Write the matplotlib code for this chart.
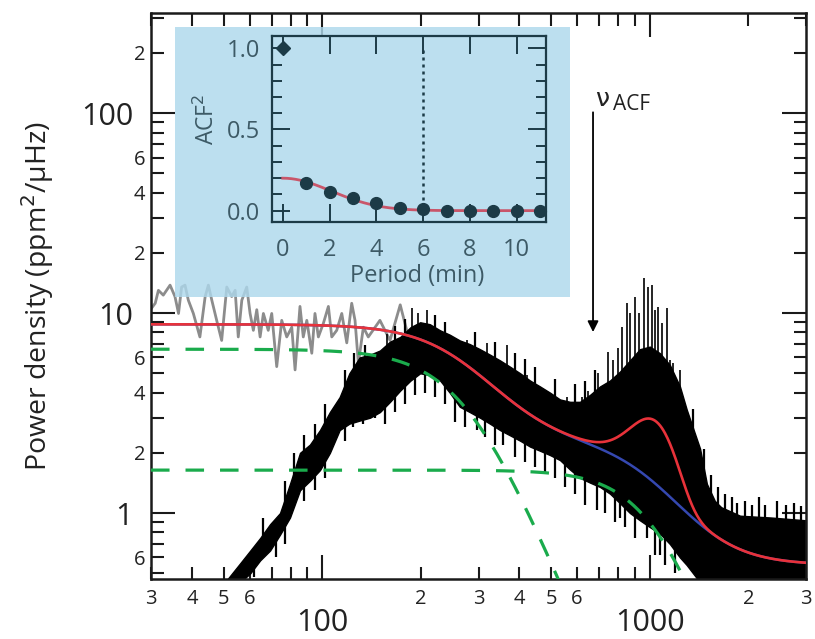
import numpy as np
import matplotlib
matplotlib.use("Agg")
import matplotlib.pyplot as plt
from matplotlib.patches import Rectangle
from matplotlib.ticker import FixedLocator, FixedFormatter

plt.rcParams['font.family'] = ['Open Sans', 'DejaVu Sans']
plt.rcParams['mathtext.fontset'] = 'dejavusans'

# ---- background fit: two Harvey components + white noise, plus Gaussian envelope
harvey_amp = [6.6, 1.64]
harvey_freq = [276.0, 1040.0]
harvey_exp = [4.0, 4.5]
white_noise = 0.55
env_height = 1.5
env_numax = 1020.0
env_sigma = 150.0

# ---- unfiltered spectrum (grey)
gray_freq = [30.0, 30.9, 31.6, 32.7, 34.3, 35.5, 36.4, 37.2, 38.1, 39.0, 40.4,
             42.3, 43.9, 44.9, 46.0, 47.6, 49.3, 51.1, 52.9, 54.2, 55.4,
             56.8, 58.8, 60.2, 61.6, 63.1, 64.6, 66.1, 68.4, 70.1, 72.6,
             75.2, 77.9, 80.7, 82.6, 85.5, 87.5, 89.7, 92.9, 95.0, 97.3,
             100.8, 104.4, 106.9, 110.7, 114.7, 118.8, 123.0, 125.9, 128.9, 133.5,
             138.2, 150, 161, 173, 186, 213, 245, 282, 325, 374]
gray_power = [10.5, 11.2, 13.0, 12.3, 13.8, 12.1, 9.96, 13.5, 13.8, 11.6, 9.96,
              7.6, 12.1, 13.8, 11.6, 9.2, 7.3, 13.5, 12.1, 13.0, 7.6,
              11.6, 13.5, 9.96, 8.2, 10.4, 7.6, 9.96, 8.2, 9.96, 5.4,
              9.2, 7.6, 8.5, 5.2, 10.8, 7.6, 9.2, 6.3, 9.96, 7.6,
              8.9, 10.8, 7.6, 8.2, 9.96, 7.1, 11.2, 9.2, 5.6, 8.5,
              7.6, 9.2, 7.3, 11.0, 6.9, 8.0, 7.5, 6.5, 5.8, 5.0]

# ---- filtered spectrum (black): lower / upper envelope of the dense periodogram
spec_freq = [51.5, 56.1, 60.3, 64.6, 69.3, 74.3, 79.7, 85.5, 91.7, 98.4,
             105.5, 113, 121, 130, 140, 150, 161, 173, 186, 199,
             213, 229, 245, 263, 282, 303, 325, 349, 374, 402,
             431, 462, 496, 532, 571, 612, 657, 705, 756, 811,
             870, 933, 1001, 1074, 1152, 1236, 1296, 1424, 1494, 1580,
             1652, 1887, 2345, 3000]
spec_low = [0.40, 0.45, 0.50, 0.58, 0.65, 0.78, 0.95, 1.30, 1.45, 1.64,
            2.0, 2.6, 2.8, 2.9, 3.0, 3.2, 3.6, 4.1, 4.6, 5.0,
            4.9, 4.6, 4.0, 3.4, 3.2, 3.0, 2.8, 2.6, 2.45, 2.3,
            2.15, 2.05, 1.95, 1.84, 1.65, 1.5, 1.42, 1.35, 1.25, 1.12,
            1.0, 0.92, 0.85, 0.79, 0.7, 0.6, 0.55, 0.45, 0.42, 0.4,
            0.4, 0.4, 0.4, 0.4]
spec_high = [0.47, 0.56, 0.65, 0.75, 0.88, 1.0, 1.4, 2.0, 2.2, 2.6,
             3.2, 3.8, 5.0, 6.0, 6.2, 6.5, 7.2, 7.6, 8.5, 9.0,
             8.8, 8.2, 7.8, 7.3, 7.0, 6.6, 6.2, 5.8, 5.4, 5.0,
             4.6, 4.3, 4.0, 3.7, 3.6, 3.6, 3.9, 4.3, 4.6, 5.1,
             5.8, 6.6, 6.8, 6.3, 5.5, 4.3, 3.3, 2.1, 1.4, 1.15,
             1.07, 0.97, 0.95, 0.92]

# tall individual peaks above the envelope
peak_freq = [143, 158, 188, 196, 209, 229, 245, 277, 318, 366,
             422, 486, 559, 621, 648, 695, 746, 800, 852, 902,
             960, 1016, 1060, 1129, 1178, 1237,
             720, 772, 823, 870, 927, 988, 1038, 1090, 1153]
peak_top = [6.0, 7.9, 10.6, 9.96, 10.4, 8.0, 7.6, 7.3, 7.1, 6.9,
            4.9, 4.1, 3.8, 3.8, 4.1, 5.0, 6.4, 6.7, 11.2, 12.0,
            15.0, 13.8, 10.7, 10.6, 5.6, 5.2,
            4.1, 5.8, 8.5, 10.0, 10.0, 13.5, 10.4, 8.9, 5.8]

# smaller jitter along the upper edge
jag_freq = [66, 77, 82, 88, 95, 102, 117, 125, 135, 167, 179, 221, 237, 292,
            337, 388, 416, 446, 514, 591, 634, 680, 1358, 1459, 1537, 1616,
            1700, 1780, 1850, 1950, 2050, 2150, 2250, 2450, 2600, 2750, 2900]
jag_top = [0.95, 1.45, 2.0, 2.45, 2.8, 3.5, 5.2, 6.3, 6.9, 8.6, 9.3, 9.8, 9.0, 8.0,
           7.2, 6.3, 5.9, 5.4, 4.7, 4.4, 4.6, 5.2, 3.3, 2.1, 1.55, 1.35,
           1.25, 1.2, 1.12, 1.15, 1.1, 1.2, 1.1, 1.15, 1.1, 1.12, 1.08]

# dips below the envelope
dip_freq = [62, 72, 77, 88, 95, 102, 117, 124, 133, 145, 155, 167, 179, 192,
            206, 221, 237, 254, 272, 297, 314, 337, 356, 388, 416, 446, 479,
            514, 551, 591, 634, 690, 730, 783, 811, 840, 900, 981, 1037,
            1074, 1113, 1194]
dip_bottom = [0.48, 0.6, 0.7, 1.15, 1.3, 1.5, 2.3, 2.7, 2.8, 3.0, 2.8, 3.2, 3.5, 3.9,
              4.0, 3.8, 3.5, 2.85, 2.7, 2.6, 2.4, 2.2, 2.2, 1.9, 1.8, 1.7, 1.6,
              1.5, 1.35, 1.25, 1.1, 1.03, 1.0, 0.9, 0.95, 0.85, 0.75, 0.75, 0.62,
              0.62, 0.55, 0.5]

# ---- autocorrelation inset
period = [0, 1, 2, 3, 4, 5, 6, 7, 8, 9, 10, 11]
acf2 = [1.0, 0.168, 0.117, 0.076, 0.045, 0.014, 0.008, 0.0, 0.0, 0.0, 0.0, 0.0]
acf_fit_amp = 0.2
acf_fit_sigma = 2.06
acf_marker_period = 6

nu_acf = 671

# ---------------------------------------------------------------------------
fig = plt.figure(figsize=(8.15, 6.39), dpi=100)
ax = fig.add_axes([0.1853, 0.0939, 0.8037, 0.8858])
ax.set_xscale('log')
ax.set_yscale('log')
ax.set_xlim(30, 3000)
ax.set_ylim(0.468, 317)

f = np.logspace(np.log10(30), np.log10(3000), 800)
h1 = harvey_amp[0] / (1 + (f / harvey_freq[0]) ** harvey_exp[0])
h2 = harvey_amp[1] / (1 + (f / harvey_freq[1]) ** harvey_exp[1])
background = h1 + h2 + white_noise
total = background + env_height * np.exp(-(f - env_numax) ** 2 / (2 * env_sigma ** 2))

ax.plot(gray_freq, gray_power, color='#8c8c8c', lw=2.0, zorder=1.5)

sf = np.array(spec_freq, float)
lo = np.array(spec_low, float)
hi = np.array(spec_high, float)
ax.fill_between(sf, lo, hi, color='black', lw=1.0, edgecolor='black', zorder=2)

def band_mid(x):
    return np.exp(np.interp(np.log(x), np.log(sf), 0.5 * (np.log(lo) + np.log(hi))))

pf = np.array(peak_freq, float)
ax.vlines(pf, band_mid(pf), peak_top, color='black', lw=1.2, zorder=2)
jf = np.array(jag_freq, float)
ax.vlines(jf, band_mid(jf), jag_top, color='black', lw=1.6, zorder=2)
df = np.array(dip_freq, float)
ax.vlines(df, dip_bottom, band_mid(df), color='black', lw=1.6, zorder=2)

green = '#1aab4c'
ax.plot(f, h1, color=green, lw=2.3, dashes=(5.8, 5.0), zorder=3)
ax.plot(f, h2, color=green, lw=2.3, dashes=(5.8, 5.0), zorder=3)
ax.plot(f, background, color='#3548b0', lw=1.8, zorder=3.5)
ax.plot(f, total, color='#e8323a', lw=1.9, zorder=4)

ax.annotate('', xy=(nu_acf, 8.04), xytext=(nu_acf, 101),
            arrowprops=dict(arrowstyle='-|>', color='black', lw=1.3,
                            mutation_scale=16, shrinkA=0, shrinkB=0), zorder=5)
ax.text(683, 109, 'ν', fontsize=18, ha='left', va='baseline', color='#222222',
        family=['DejaVu Sans'])
ax.text(772, 104, 'ACF', fontsize=15, ha='left', va='baseline', color='#222222')

# ticks
ax.xaxis.set_major_locator(FixedLocator([100, 1000]))
ax.xaxis.set_major_formatter(FixedFormatter(['100', '1000']))
xminor = [30, 40, 50, 60, 70, 80, 90, 200, 300, 400, 500, 600, 700, 800, 900, 2000, 3000]
xminor_lab = ['3', '4', '5', '6', '', '', '', '2', '3', '4', '5', '6', '', '', '', '2', '3']
ax.xaxis.set_minor_locator(FixedLocator(xminor))
ax.xaxis.set_minor_formatter(FixedFormatter(xminor_lab))

ax.yaxis.set_major_locator(FixedLocator([1, 10, 100]))
ax.yaxis.set_major_formatter(FixedFormatter(['1', '10', '100']))
yminor = [0.5, 0.6, 0.7, 0.8, 0.9, 2, 3, 4, 5, 6, 7, 8, 9,
          20, 30, 40, 50, 60, 70, 80, 90, 200, 300]
yminor_lab = ['', '6', '', '', '', '2', '', '4', '', '6', '', '', '',
              '2', '', '4', '', '6', '', '', '', '2', '']
ax.yaxis.set_minor_locator(FixedLocator(yminor))
ax.yaxis.set_minor_formatter(FixedFormatter(yminor_lab))

ax.tick_params(which='both', direction='in', top=True, right=True,
               colors='#1a1a1a', labelcolor='#222222')
ax.tick_params(which='major', length=17, width=1.5, labelsize=22)
ax.tick_params(which='minor', length=9, width=1.5, labelsize=14.5)
ax.tick_params(axis='x', which='major', pad=21)
ax.tick_params(axis='x', which='minor', pad=7)
ax.tick_params(axis='y', which='major', pad=13)
ax.tick_params(axis='y', which='minor', pad=4)
for s in ax.spines.values():
    s.set_linewidth(1.8)
    s.set_color('#1a1a1a')

ax.set_ylabel('Power density (ppm$^{2}$/µHz)', fontsize=20.5, color='#222222')
ax.yaxis.set_label_coords(-0.145, 0.5)

panel = Rectangle((0.2147, 0.5352), 0.4847, 0.4225, transform=fig.transFigure,
                  facecolor='#aed8ec', alpha=0.82, edgecolor='none', zorder=10)
ax.add_artist(panel)

# ---- inset
ink = '#1c3b47'
txt = '#3d5a66'
axi = fig.add_axes([0.3334, 0.6531, 0.3365, 0.2906])
axi.set_facecolor('none')
axi.set_xlim(-0.47, 11.25)
axi.set_ylim(-0.068, 1.076)
pp = np.linspace(0, 11, 300)
axi.plot(pp, acf_fit_amp * np.exp(-pp ** 2 / (2 * acf_fit_sigma ** 2)),
         color='#c9566a', lw=2.0, zorder=2)
axi.vlines(acf_marker_period, 0.02, 1.0, color=ink, lw=1.8, linestyles=(0, (1.2, 1.6)),
           zorder=2)
axi.plot(period[1:], acf2[1:], 'o', color=ink, ms=8.5, zorder=3, clip_on=False)
axi.plot(period[:1], acf2[:1], 'D', color=ink, ms=7.5, zorder=3, clip_on=False)

axi.set_xticks([0, 2, 4, 6, 8, 10])
axi.set_yticks([0.0, 0.5, 1.0])
axi.set_yticklabels(['0.0', '0.5', '1.0'])
axi.yaxis.set_minor_locator(FixedLocator(np.arange(0, 1.05, 0.1)))
axi.tick_params(which='both', direction='in', top=True, right=True, colors=ink,
                labelcolor=txt, labelsize=17)
axi.tick_params(which='major', length=13, width=1.4)
axi.tick_params(which='minor', length=7, width=1.4)
axi.tick_params(axis='x', pad=12)
axi.tick_params(axis='y', pad=8)
for s in axi.spines.values():
    s.set_linewidth(1.6)
    s.set_color(ink)
axi.set_xlabel('Period (min)', fontsize=17, color=txt)
axi.xaxis.set_label_coords(0.53, -0.23)
axi.set_ylabel('ACF$^2$', fontsize=16.5, color=txt)
axi.yaxis.set_label_coords(-0.19, 0.55)

fig.savefig('out.png', dpi=100, facecolor='white')
